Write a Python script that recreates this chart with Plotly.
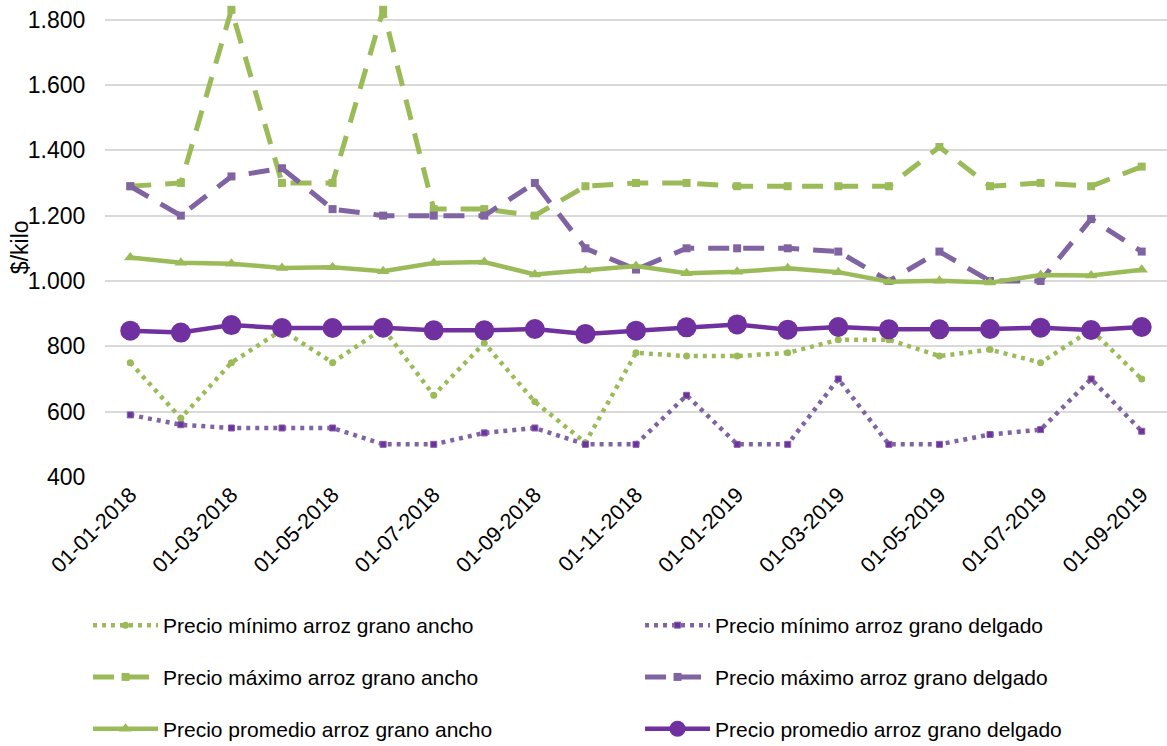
import plotly.graph_objects as go

# Monthly reference dates (first of each month)
fechas = [
    "01-01-2018", "01-02-2018", "01-03-2018", "01-04-2018", "01-05-2018",
    "01-06-2018", "01-07-2018", "01-08-2018", "01-09-2018", "01-10-2018",
    "01-11-2018", "01-12-2018", "01-01-2019", "01-02-2019", "01-03-2019",
    "01-04-2019", "01-05-2019", "01-06-2019", "01-07-2019", "01-08-2019",
    "01-09-2019",
]

# Prices in $/kilo
min_ancho = [750, 580, 750, 850, 750, 855, 650, 810, 630, 505, 780,
             770, 770, 780, 820, 820, 770, 790, 750, 850, 700]
min_delgado = [590, 560, 550, 550, 550, 500, 500, 535, 550, 500, 500,
               650, 500, 500, 700, 500, 500, 530, 545, 700, 540]
max_ancho = [1290, 1300, 1830, 1300, 1300, 1830, 1220, 1220, 1200, 1290, 1300,
             1300, 1290, 1290, 1290, 1290, 1410, 1290, 1300, 1290, 1350]
max_delgado = [1290, 1200, 1320, 1345, 1220, 1200, 1200, 1200, 1300, 1100, 1035,
               1100, 1100, 1100, 1090, 1000, 1090, 1000, 1000, 1190, 1090]
prom_ancho = [1072, 1056, 1053, 1040, 1042, 1030, 1055, 1058, 1020, 1032, 1046,
              1024, 1028, 1039, 1027, 998, 1001, 995, 1018, 1017, 1034]
prom_delgado = [848, 842, 865, 856, 856, 857, 849, 849, 853, 838, 848,
                858, 867, 851, 859, 852, 852, 853, 857, 850, 859]

etiquetas_x = fechas[::2]

VERDE = "#9BBB59"
MORADO = "#8064A2"
MORADO_OSC = "#7030A0"
FUENTE = "Arial, Liberation Sans, sans-serif"

series = [
    dict(name="Precio mínimo arroz grano ancho", y=min_ancho, legend="legend",
         line=dict(color=VERDE, width=4.5, dash="4px,5px"),
         marker=dict(symbol="circle", size=7, color=VERDE)),
    dict(name="Precio mínimo arroz grano delgado", y=min_delgado, legend="legend2",
         line=dict(color=MORADO, width=4.5, dash="4px,5px"),
         marker=dict(symbol="square", size=6, color=MORADO_OSC,
                     line=dict(color=MORADO, width=1))),
    dict(name="Precio máximo arroz grano ancho", y=max_ancho, legend="legend",
         line=dict(color=VERDE, width=5, dash="21px,14px"),
         marker=dict(symbol="square", size=8, color=VERDE)),
    dict(name="Precio máximo arroz grano delgado", y=max_delgado, legend="legend2",
         line=dict(color=MORADO, width=5, dash="21px,14px"),
         marker=dict(symbol="square", size=8, color=MORADO)),
    dict(name="Precio promedio arroz grano ancho", y=prom_ancho, legend="legend",
         line=dict(color=VERDE, width=4.5),
         marker=dict(symbol="triangle-up", size=11, color=VERDE)),
    dict(name="Precio promedio arroz grano delgado", y=prom_delgado, legend="legend2",
         line=dict(color=MORADO_OSC, width=4.5),
         marker=dict(symbol="circle", size=20, color=MORADO_OSC)),
]

fig = go.Figure()
for i, s in enumerate(series):
    fig.add_trace(go.Scatter(
        x=fechas, y=s["y"], name=s["name"], mode="lines+markers",
        line=s["line"], marker=s["marker"], legend=s["legend"],
        legendgroup=f"g{i}",
    ))

# Two legend columns under the plot
leyenda = dict(
    font=dict(family=FUENTE, size=21, color="#000000"),
    itemwidth=65, tracegroupgap=21.5, orientation="v",
    bgcolor="rgba(0,0,0,0)", yanchor="top", xanchor="left",
)

fig.update_layout(
    width=1167, height=746,
    margin=dict(l=105, r=0, t=0, b=269, autoexpand=False),
    paper_bgcolor="white", plot_bgcolor="white",
    separators=",.",
    font=dict(family=FUENTE, size=21, color="#000000"),
    xaxis=dict(
        type="category", range=[-0.5, 20.5],
        tickmode="array", tickvals=etiquetas_x, ticktext=etiquetas_x,
        tickangle=-45, showgrid=False, showline=False, zeroline=False,
        ticks="", tickfont=dict(family=FUENTE, size=21.5, color="#000000"),
    ),
    yaxis=dict(
        range=[400, 1860], tickmode="linear", tick0=400, dtick=200,
        tickformat=",d", showgrid=True, gridcolor="#D9D9D9", gridwidth=1.5,
        zeroline=False, showline=False,
        ticks="outside", ticklen=14, tickcolor="rgba(0,0,0,0)",
        tickfont=dict(family=FUENTE, size=23, color="#000000"),
    ),
    legend=dict(leyenda, x=-0.016, y=-0.2683),
    legend2=dict(leyenda, x=0.5038, y=-0.2683),
    annotations=[dict(
        text="$/kilo", textangle=-90, xref="paper", yref="paper",
        x=-0.08, y=0.482, xanchor="center", yanchor="middle", showarrow=False,
        font=dict(family=FUENTE, size=23, color="#000000"),
    )],
)

fig.write_html("out.html")
